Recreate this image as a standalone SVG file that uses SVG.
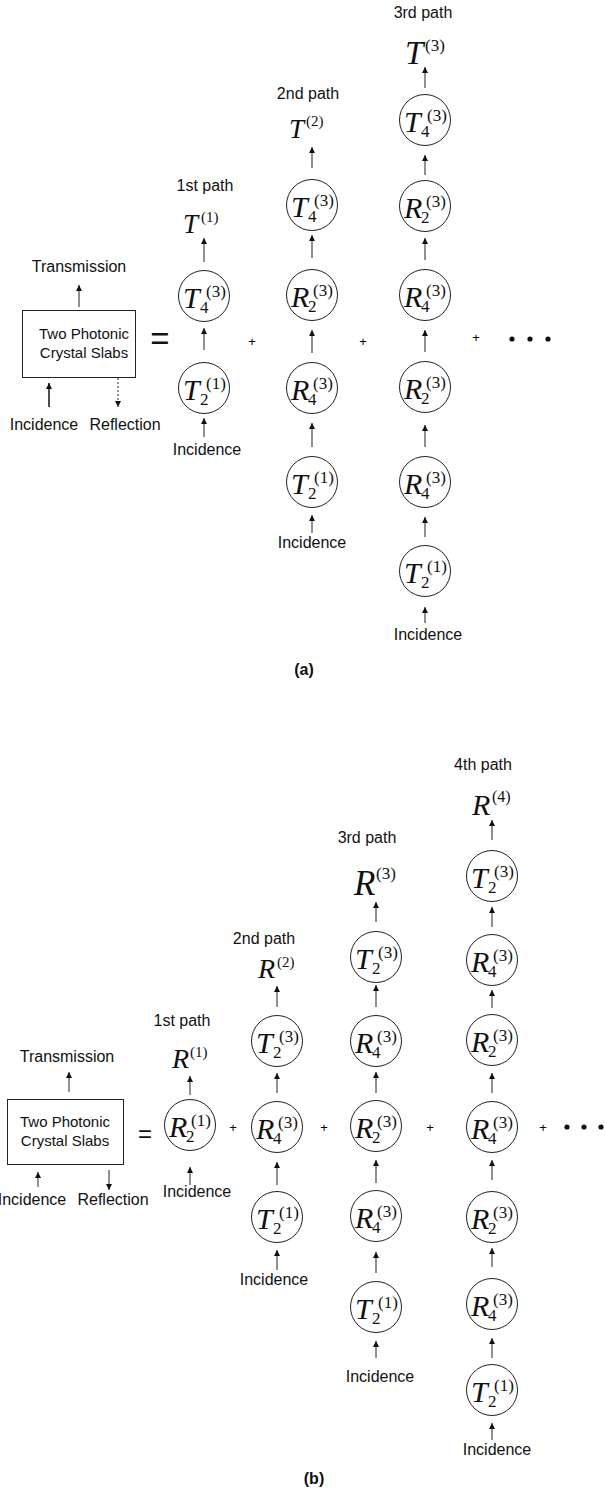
<svg xmlns="http://www.w3.org/2000/svg" width="605" height="1490" viewBox="0 0 605 1490">
  <style>
    .lbl { font-family: "Liberation Sans", Arial, sans-serif; font-size: 16px; text-anchor: middle; fill: #111; }
    .bx { font-size: 15px; }
    .cap { font-weight: bold; }
    .pl { font-family: "Liberation Sans", Arial, sans-serif; font-size: 13px; text-anchor: middle; fill: #000; }
    .mv { font-family: "Liberation Serif", "Times New Roman", serif; font-style: italic; font-size: 30px; fill: #111; }
    .sb { font-style: normal; font-size: 17px; }
    .sp { font-style: normal; font-size: 17px; }
    .node circle { fill: none; stroke: #222; stroke-width: 1; }
    .slab rect { fill: none; stroke: #222; stroke-width: 1; }
    .conn line { stroke: #222; stroke-width: 1; marker-end: url(#ah); }
    .conn line.thick { stroke-width: 1.6; }
    .conn line.dash { stroke-dasharray: 2 2; }
    .dot { fill: #111; }
  </style>
  <defs>
    <marker id="ah" viewBox="0 0 6 6" refX="6" refY="3" markerWidth="6" markerHeight="6" markerUnits="userSpaceOnUse" orient="auto">
      <path d="M0,0 L6,3 L0,6 z" fill="#111"/>
    </marker>
  </defs>
  <rect width="605" height="1490" fill="#fff"/>

  <!-- ===================== (a) transmission ===================== -->
  <g id="a-slab" class="slab">
    <rect x="22.5" y="310.5" width="113" height="67"/>
    <text class="lbl bx" x="84" y="339">Two Photonic</text>
    <text class="lbl bx" x="84" y="358">Crystal Slabs</text>
  </g>
  <text class="lbl" x="79" y="272">Transmission</text>
  <text class="lbl" x="44" y="430">Incidence</text>
  <text class="lbl" x="125" y="430">Reflection</text>
  <text class="lbl" x="160" y="350" style="font-size:33px">=</text>

  <text class="lbl" x="205" y="191">1st path</text>
  <text class="lbl" x="308" y="99">2nd path</text>
  <text class="lbl" x="423" y="18">3rd path</text>

  <g id="a-out1"><text class="mv" style="font-size:27px"><tspan x="183" y="233">T</tspan><tspan class="sp" style="font-size:15px" x="201" y="222">(1)</tspan></text></g>
  <g id="a-out2"><text class="mv" style="font-size:27px"><tspan x="289" y="138">T</tspan><tspan class="sp" style="font-size:15px" x="306" y="126">(2)</tspan></text></g>
  <g id="a-out3"><text class="mv" style="font-size:33px"><tspan x="405" y="64">T</tspan><tspan class="sp" x="425" y="51">(3)</tspan></text></g>

  <!-- path 1 -->
  <g id="a1-n1" class="node"><circle cx="204" cy="296" r="25.5"/><text class="mv"><tspan x="183" y="308">T</tspan><tspan class="sb" x="200" y="313">4</tspan><tspan class="sp" x="206" y="297">(3)</tspan></text></g>
  <g id="a1-n2" class="node"><circle cx="204" cy="388" r="25.5"/><text class="mv"><tspan x="183" y="400">T</tspan><tspan class="sb" x="200" y="405">2</tspan><tspan class="sp" x="206" y="389">(1)</tspan></text></g>
  <!-- path 2 -->
  <g id="a2-n1" class="node"><circle cx="312" cy="205" r="25.5"/><text class="mv"><tspan x="291" y="217">T</tspan><tspan class="sb" x="308" y="222">4</tspan><tspan class="sp" x="314" y="206">(3)</tspan></text></g>
  <g id="a2-n2" class="node"><circle cx="312" cy="295" r="25.5"/><text class="mv"><tspan x="291" y="307">R</tspan><tspan class="sb" x="308" y="312">2</tspan><tspan class="sp" x="313" y="296">(3)</tspan></text></g>
  <g id="a2-n3" class="node"><circle cx="312" cy="388" r="25.5"/><text class="mv"><tspan x="291" y="400">R</tspan><tspan class="sb" x="308" y="405">4</tspan><tspan class="sp" x="313" y="389">(3)</tspan></text></g>
  <g id="a2-n4" class="node"><circle cx="312" cy="482" r="25.5"/><text class="mv"><tspan x="291" y="494">T</tspan><tspan class="sb" x="308" y="499">2</tspan><tspan class="sp" x="314" y="483">(1)</tspan></text></g>
  <!-- path 3 -->
  <g id="a3-n1" class="node"><circle cx="425" cy="120" r="25.5"/><text class="mv"><tspan x="404" y="132">T</tspan><tspan class="sb" x="421" y="137">4</tspan><tspan class="sp" x="427" y="121">(3)</tspan></text></g>
  <g id="a3-n2" class="node"><circle cx="425" cy="206" r="25.5"/><text class="mv"><tspan x="404" y="218">R</tspan><tspan class="sb" x="421" y="223">2</tspan><tspan class="sp" x="426" y="207">(3)</tspan></text></g>
  <g id="a3-n3" class="node"><circle cx="425" cy="295" r="25.5"/><text class="mv"><tspan x="404" y="307">R</tspan><tspan class="sb" x="421" y="312">4</tspan><tspan class="sp" x="426" y="296">(3)</tspan></text></g>
  <g id="a3-n4" class="node"><circle cx="425" cy="387" r="25.5"/><text class="mv"><tspan x="404" y="399">R</tspan><tspan class="sb" x="421" y="404">2</tspan><tspan class="sp" x="426" y="388">(3)</tspan></text></g>
  <g id="a3-n5" class="node"><circle cx="425" cy="482" r="25.5"/><text class="mv"><tspan x="404" y="494">R</tspan><tspan class="sb" x="421" y="499">4</tspan><tspan class="sp" x="426" y="483">(3)</tspan></text></g>
  <g id="a3-n6" class="node"><circle cx="425" cy="571" r="25.5"/><text class="mv"><tspan x="404" y="583">T</tspan><tspan class="sb" x="421" y="588">2</tspan><tspan class="sp" x="427" y="572">(1)</tspan></text></g>

  <text class="lbl" x="207" y="455">Incidence</text>
  <text class="lbl" x="312" y="548">Incidence</text>
  <text class="lbl" x="428" y="640">Incidence</text>

  <text class="pl" x="252" y="346">+</text>
  <text class="pl" x="363" y="346">+</text>
  <text class="pl" x="476" y="342">+</text>
  <circle class="dot" cx="512" cy="339" r="2.6"/>
  <circle class="dot" cx="530" cy="339" r="2.6"/>
  <circle class="dot" cx="548" cy="339" r="2.6"/>

  <text class="lbl cap" x="304" y="675">(a)</text>

  <!-- ===================== (b) reflection ===================== -->
  <g id="b-slab" class="slab">
    <rect x="7.5" y="1099.5" width="116" height="65"/>
    <text class="lbl bx" x="65" y="1127">Two Photonic</text>
    <text class="lbl bx" x="65" y="1146">Crystal Slabs</text>
  </g>
  <text class="lbl" x="67" y="1062">Transmission</text>
  <text class="lbl" x="32" y="1205">Incidence</text>
  <text class="lbl" x="113" y="1205">Reflection</text>
  <text class="lbl" x="145" y="1142" style="font-size:24px">=</text>

  <text class="lbl" x="182" y="1026">1st path</text>
  <text class="lbl" x="264" y="944">2nd path</text>
  <text class="lbl" x="367" y="843">3rd path</text>
  <text class="lbl" x="483" y="770">4th path</text>

  <g id="b-out1"><text class="mv" style="font-size:28px"><tspan x="172" y="1068">R</tspan><tspan class="sp" style="font-size:15px" x="190" y="1057">(1)</tspan></text></g>
  <g id="b-out2"><text class="mv" style="font-size:28px"><tspan x="258" y="978">R</tspan><tspan class="sp" style="font-size:15px" x="277" y="967">(2)</tspan></text></g>
  <g id="b-out3"><text class="mv" style="font-size:35px"><tspan x="354" y="895">R</tspan><tspan class="sp" style="font-size:17px" x="376" y="879">(3)</tspan></text></g>
  <g id="b-out4"><text class="mv" style="font-size:30px"><tspan x="472" y="815">R</tspan><tspan class="sp" style="font-size:16px" x="492" y="802">(4)</tspan></text></g>

  <!-- path 1 -->
  <g id="b1-n1" class="node"><circle cx="190" cy="1125" r="25.5"/><text class="mv"><tspan x="169" y="1137">R</tspan><tspan class="sb" x="186" y="1142">2</tspan><tspan class="sp" x="191" y="1126">(1)</tspan></text></g>
  <!-- path 2 -->
  <g id="b2-n1" class="node"><circle cx="277" cy="1041" r="25.5"/><text class="mv"><tspan x="256" y="1053">T</tspan><tspan class="sb" x="273" y="1058">2</tspan><tspan class="sp" x="279" y="1042">(3)</tspan></text></g>
  <g id="b2-n2" class="node"><circle cx="277" cy="1127" r="25.5"/><text class="mv"><tspan x="256" y="1139">R</tspan><tspan class="sb" x="273" y="1144">4</tspan><tspan class="sp" x="278" y="1128">(3)</tspan></text></g>
  <g id="b2-n3" class="node"><circle cx="277" cy="1217" r="25.5"/><text class="mv"><tspan x="256" y="1229">T</tspan><tspan class="sb" x="273" y="1234">2</tspan><tspan class="sp" x="279" y="1218">(1)</tspan></text></g>
  <!-- path 3 -->
  <g id="b3-n1" class="node"><circle cx="376" cy="957" r="25.5"/><text class="mv"><tspan x="355" y="969">T</tspan><tspan class="sb" x="372" y="974">2</tspan><tspan class="sp" x="378" y="958">(3)</tspan></text></g>
  <g id="b3-n2" class="node"><circle cx="376" cy="1041" r="25.5"/><text class="mv"><tspan x="355" y="1053">R</tspan><tspan class="sb" x="372" y="1058">4</tspan><tspan class="sp" x="377" y="1042">(3)</tspan></text></g>
  <g id="b3-n3" class="node"><circle cx="376" cy="1126" r="25.5"/><text class="mv"><tspan x="355" y="1138">R</tspan><tspan class="sb" x="372" y="1143">2</tspan><tspan class="sp" x="377" y="1127">(3)</tspan></text></g>
  <g id="b3-n4" class="node"><circle cx="376" cy="1216" r="25.5"/><text class="mv"><tspan x="355" y="1228">R</tspan><tspan class="sb" x="372" y="1233">4</tspan><tspan class="sp" x="377" y="1217">(3)</tspan></text></g>
  <g id="b3-n5" class="node"><circle cx="376" cy="1307" r="25.5"/><text class="mv"><tspan x="355" y="1319">T</tspan><tspan class="sb" x="372" y="1324">2</tspan><tspan class="sp" x="378" y="1308">(1)</tspan></text></g>
  <!-- path 4 -->
  <g id="b4-n1" class="node"><circle cx="492" cy="876" r="25.5"/><text class="mv"><tspan x="471" y="888">T</tspan><tspan class="sb" x="488" y="893">2</tspan><tspan class="sp" x="494" y="877">(3)</tspan></text></g>
  <g id="b4-n2" class="node"><circle cx="492" cy="960" r="25.5"/><text class="mv"><tspan x="471" y="972">R</tspan><tspan class="sb" x="488" y="977">4</tspan><tspan class="sp" x="493" y="961">(3)</tspan></text></g>
  <g id="b4-n3" class="node"><circle cx="492" cy="1040" r="25.5"/><text class="mv"><tspan x="471" y="1052">R</tspan><tspan class="sb" x="488" y="1057">2</tspan><tspan class="sp" x="493" y="1041">(3)</tspan></text></g>
  <g id="b4-n4" class="node"><circle cx="492" cy="1127" r="25.5"/><text class="mv"><tspan x="471" y="1139">R</tspan><tspan class="sb" x="488" y="1144">4</tspan><tspan class="sp" x="493" y="1128">(3)</tspan></text></g>
  <g id="b4-n5" class="node"><circle cx="492" cy="1217" r="25.5"/><text class="mv"><tspan x="471" y="1229">R</tspan><tspan class="sb" x="488" y="1234">2</tspan><tspan class="sp" x="493" y="1218">(3)</tspan></text></g>
  <g id="b4-n6" class="node"><circle cx="492" cy="1304" r="25.5"/><text class="mv"><tspan x="471" y="1316">R</tspan><tspan class="sb" x="488" y="1321">4</tspan><tspan class="sp" x="493" y="1305">(3)</tspan></text></g>
  <g id="b4-n7" class="node"><circle cx="492" cy="1390" r="25.5"/><text class="mv"><tspan x="471" y="1402">T</tspan><tspan class="sb" x="488" y="1407">2</tspan><tspan class="sp" x="494" y="1391">(1)</tspan></text></g>

  <text class="lbl" x="197" y="1197">Incidence</text>
  <text class="lbl" x="274" y="1285">Incidence</text>
  <text class="lbl" x="380" y="1382">Incidence</text>
  <text class="lbl" x="497" y="1455">Incidence</text>

  <text class="pl" x="233" y="1132">+</text>
  <text class="pl" x="324" y="1132">+</text>
  <text class="pl" x="430" y="1132">+</text>
  <text class="pl" x="543" y="1132">+</text>
  <circle class="dot" cx="567" cy="1127" r="2.6"/>
  <circle class="dot" cx="584" cy="1127" r="2.6"/>
  <circle class="dot" cx="601" cy="1127" r="2.6"/>

  <text class="lbl cap" x="314" y="1484">(b)</text>

  <!-- ===================== connectors ===================== -->
  <g id="connectors" class="conn">
    <!-- (a) slab -->
    <line x1="79" y1="307" x2="79" y2="285"/>
    <line class="thick" x1="49" y1="407" x2="49" y2="383"/>
    <line class="dash" x1="118" y1="378" x2="118" y2="407"/>
    <!-- (a) path 1 -->
    <line x1="204" y1="262" x2="204" y2="238"/>
    <line x1="204" y1="350" x2="204" y2="328"/>
    <line x1="204" y1="437" x2="204" y2="418"/>
    <!-- (a) path 2 -->
    <line x1="312" y1="168" x2="312" y2="147"/>
    <line x1="312" y1="258" x2="312" y2="235"/>
    <line x1="312" y1="353" x2="312" y2="330"/>
    <line x1="312" y1="447" x2="312" y2="423"/>
    <line x1="312" y1="533" x2="312" y2="515"/>
    <!-- (a) path 3 -->
    <line x1="425" y1="88" x2="425" y2="67"/>
    <line x1="425" y1="175" x2="425" y2="155"/>
    <line x1="425" y1="260" x2="425" y2="238"/>
    <line x1="425" y1="352" x2="425" y2="330"/>
    <line x1="425" y1="447" x2="425" y2="425"/>
    <line x1="425" y1="537" x2="425" y2="517"/>
    <line x1="425" y1="623" x2="425" y2="607"/>
    <!-- (b) slab -->
    <line x1="69" y1="1092" x2="69" y2="1072"/>
    <line x1="38" y1="1187" x2="38" y2="1172"/>
    <line x1="109" y1="1170" x2="109" y2="1190"/>
    <!-- (b) path 1 -->
    <line x1="190" y1="1095" x2="190" y2="1076"/>
    <line x1="190" y1="1185" x2="190" y2="1167"/>
    <!-- (b) path 2 -->
    <line x1="277" y1="1007" x2="277" y2="986"/>
    <line x1="277" y1="1093" x2="277" y2="1073"/>
    <line x1="277" y1="1185" x2="277" y2="1162"/>
    <line x1="277" y1="1270" x2="277" y2="1250"/>
    <!-- (b) path 3 -->
    <line x1="376" y1="922" x2="376" y2="902"/>
    <line x1="376" y1="1007" x2="376" y2="985"/>
    <line x1="376" y1="1093" x2="376" y2="1072"/>
    <line x1="376" y1="1183" x2="376" y2="1160"/>
    <line x1="376" y1="1273" x2="376" y2="1252"/>
    <line x1="376" y1="1358" x2="376" y2="1341"/>
    <!-- (b) path 4 -->
    <line x1="492" y1="840" x2="492" y2="820"/>
    <line x1="492" y1="927" x2="492" y2="907"/>
    <line x1="492" y1="1008" x2="492" y2="990"/>
    <line x1="492" y1="1093" x2="492" y2="1073"/>
    <line x1="492" y1="1180" x2="492" y2="1160"/>
    <line x1="492" y1="1267" x2="492" y2="1248"/>
    <line x1="492" y1="1358" x2="492" y2="1338"/>
    <line x1="492" y1="1440" x2="492" y2="1423"/>
  </g>
</svg>
